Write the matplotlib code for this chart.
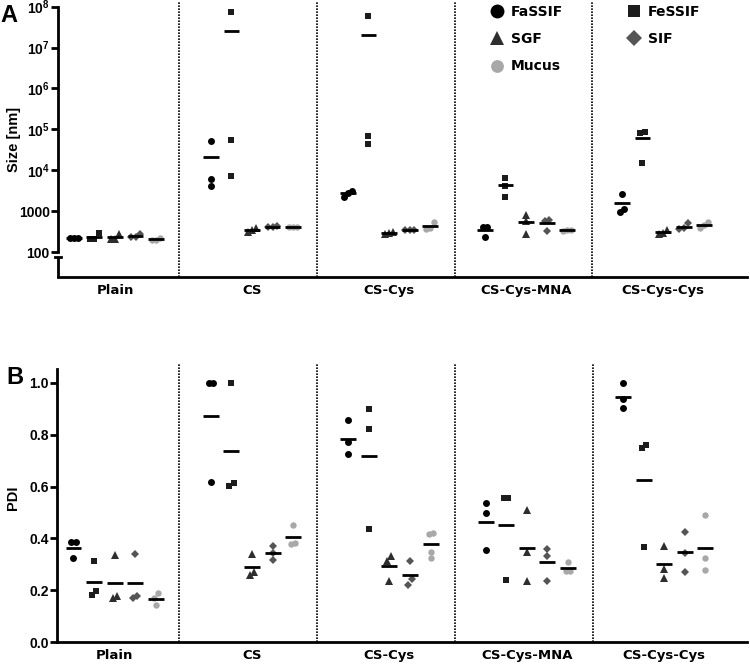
import numpy as np
import matplotlib
matplotlib.use("Agg")
import matplotlib.pyplot as plt
from matplotlib.lines import Line2D

plt.rcParams['mathtext.fontset'] = 'custom'
plt.rcParams['mathtext.rm'] = 'Liberation Sans'
plt.rcParams['mathtext.bf'] = 'Liberation Sans:bold'

groups = ['Plain', 'CS', 'CS-Cys', 'CS-Cys-MNA', 'CS-Cys-Cys']
media = ['FaSSIF', 'FeSSIF', 'SGF', 'SIF', 'Mucus']

# Panel A: particle size [nm]
size_fassif = [[225, 222, 224], [53000, 6000, 4100], [3150, 2250, 2800], [415, 400, 237], [2600, 1100, 950]]
size_fessif = [[285, 210, 212], [7.5e7, 55000, 7300], [6.0e7, 69000, 43000], [6300, 4200, 2240], [85000, 79000, 14800]]
size_sgf = [[270, 205, 210], [380, 315, 345], [290, 270, 300], [800, 570, 277], [340, 275, 290]]
size_sif = [[268, 235, 230], [440, 400, 405], [340, 345, 340], [607, 585, 320], [500, 380, 375]]
size_mucus = [[215, 200, 195], [410, 405, 400], [540, 390, 370], [340, 330, 345], [540, 450, 390]]

# Panel B: PDI
pdi_fassif = [[0.385, 0.385, 0.324], [1.0, 1.0, 0.618], [0.856, 0.773, 0.727], [0.535, 0.499, 0.354], [1.0, 0.938, 0.902]]
pdi_fessif = [[0.314, 0.198, 0.183], [1.0, 0.615, 0.602], [0.898, 0.824, 0.435], [0.557, 0.555, 0.238], [0.762, 0.748, 0.368]]
pdi_sgf = [[0.336, 0.179, 0.170], [0.340, 0.270, 0.259], [0.332, 0.314, 0.234], [0.508, 0.349, 0.237], [0.372, 0.281, 0.248]]
pdi_sif = [[0.339, 0.178, 0.169], [0.371, 0.345, 0.317], [0.314, 0.242, 0.221], [0.358, 0.332, 0.236], [0.426, 0.342, 0.269]]
pdi_mucus = [[0.188, 0.170, 0.142], [0.453, 0.381, 0.378], [0.420, 0.416, 0.347, 0.323], [0.309, 0.275, 0.275], [0.489, 0.323, 0.279]]

styles = {
    'FaSSIF': dict(marker='o', color='#000000', ms=5.0),
    'FeSSIF': dict(marker='s', color='#1c1c1c', ms=4.6),
    'SGF': dict(marker='^', color='#2e2e2e', ms=5.2),
    'SIF': dict(marker='D', color='#555555', ms=4.2),
    'Mucus': dict(marker='o', color='#a8a8a8', ms=4.6),
}
sub_off = {'FaSSIF': -0.30, 'FeSSIF': -0.15, 'SGF': 0.0, 'SIF': 0.15, 'Mucus': 0.30}
dividers = [0.47, 1.475, 2.48, 3.48]

tickfont = dict(family='Liberation Sans', weight='bold', size=10)
catfont = dict(family='DejaVu Sans', weight='bold', size=9.5)

fig = plt.figure(figsize=(7.5, 6.65), dpi=100)
W, H = 750, 665
axA = fig.add_axes([58 / W, (H - 277) / H, 689 / W, 276 / H])
axB = fig.add_axes([57 / W, (H - 642) / H, 690 / W, (642 - 363) / H])


def swarm_x(ax, x0, vals, thresh=6.0, step=0.03):
    ypx = ax.transData.transform(np.column_stack([np.zeros(len(vals)), vals]))[:, 1]
    order = np.argsort(ypx)
    xs = np.full(len(vals), float(x0))
    clusters = []
    cur = [order[0]]
    for a, b in zip(order[:-1], order[1:]):
        if ypx[b] - ypx[a] < thresh:
            cur.append(b)
        else:
            clusters.append(cur)
            cur = [b]
    clusters.append(cur)
    for c in clusters:
        n = len(c)
        for k, idx in enumerate(c):
            xs[idx] = x0 + (k - (n - 1) / 2) * step
    return xs


def draw_panel(ax, data):
    for m in media:
        st = styles[m]
        for gi, vals in enumerate(data[m]):
            vals = np.asarray(vals, dtype=float)
            x0 = gi + sub_off[m]
            xs = swarm_x(ax, x0, vals)
            ax.plot(xs, vals, linestyle='none', marker=st['marker'], color=st['color'],
                    ms=st['ms'], mew=0, zorder=3, clip_on=False)
            ax.hlines(vals.mean(), x0 - 0.058, x0 + 0.058, color='black', lw=2.0, zorder=4)
    for d in dividers:
        ax.axvline(d, color='black', lw=1.2, linestyle=(0, (1, 0.8)), zorder=1)
    ax.spines['top'].set_visible(False)
    ax.spines['right'].set_visible(False)
    ax.spines['left'].set_linewidth(2.0)
    ax.spines['bottom'].set_linewidth(2.0)
    ax.set_xticks(range(len(groups)))
    ax.set_xticklabels(groups, **catfont)
    ax.tick_params(axis='x', length=0, pad=5)
    ax.tick_params(axis='y', length=5, width=2.0, pad=1)


# Panel A
axA.set_xlim(-0.416, 4.613)
axA.set_yscale('log')
axA.set_ylim(10 ** (2 - 25 / 40.9), 10 ** (2 + 251 / 40.9))
axA.set_yticks([1e2, 1e3, 1e4, 1e5, 1e6, 1e7, 1e8])
axA.yaxis.set_minor_locator(matplotlib.ticker.NullLocator())
axA.set_yticklabels(['100', '1000', r'$\mathbf{10^{4}}$', r'$\mathbf{10^{5}}$', r'$\mathbf{10^{6}}$',
                     r'$\mathbf{10^{7}}$', r'$\mathbf{10^{8}}$'], **tickfont)
dataA = {'FaSSIF': size_fassif, 'FeSSIF': size_fessif, 'SGF': size_sgf, 'SIF': size_sif, 'Mucus': size_mucus}
draw_panel(axA, dataA)
axA.spines['left'].set_bounds(1e2, 1e8)
brk = 10 ** (2 - 5 / 40.9)
lo = axA.get_ylim()[0]
tr = matplotlib.transforms.blended_transform_factory(axA.transAxes, axA.transData)
axA.plot([0, 0], [lo, brk], color='black', lw=2.0, transform=tr, clip_on=False, solid_capstyle='butt')
axA.plot([-0.005, 0.005], [brk, brk], color='black', lw=2.0, transform=tr, clip_on=False)
axA.set_ylabel('Size [nm]', family='Liberation Sans', weight='bold', size=10.5)
axA.yaxis.set_label_coords(-0.054, 0.5)

# Panel B
axB.set_xlim(-0.42, 4.603)
axB.set_ylim(0, (642 - 363) / 259)
axB.set_yticks([0.0, 0.2, 0.4, 0.6, 0.8, 1.0])
axB.set_yticklabels(['0.0', '0.2', '0.4', '0.6', '0.8', '1.0'], **tickfont)
dataB = {'FaSSIF': pdi_fassif, 'FeSSIF': pdi_fessif, 'SGF': pdi_sgf, 'SIF': pdi_sif, 'Mucus': pdi_mucus}
draw_panel(axB, dataB)
axB.spines['left'].set_bounds(0, 1.054)
axB.set_ylabel('PDI', family='Liberation Sans', weight='bold', size=10.5)
axB.yaxis.set_label_coords(-0.054, 0.516)

# Legend
order = ['FaSSIF', 'SGF', 'Mucus', 'FeSSIF', 'SIF']
handles = [Line2D([], [], linestyle='none', marker=styles[m]['marker'], color=styles[m]['color'],
                  ms=styles[m]['ms'] * 2.0, mew=0) for m in order]
fig.legend(handles, order, loc='upper left', bbox_to_anchor=(490 / W, 1 - 5 / H), ncol=2,
           frameon=False, handlelength=1.0, handletextpad=0.5, labelspacing=0.95,
           columnspacing=4.6, borderpad=0, borderaxespad=0,
           prop=dict(family='DejaVu Sans', weight='bold', size=10))

fig.text(9 / W, 1 - 15 / H, 'A', ha='center', va='center', family='Liberation Sans', weight='bold', size=17)
fig.text(15 / W, 1 - 378 / H, 'B', ha='center', va='center', family='Liberation Sans', weight='bold', size=17)

fig.savefig('out.png', dpi=100)
